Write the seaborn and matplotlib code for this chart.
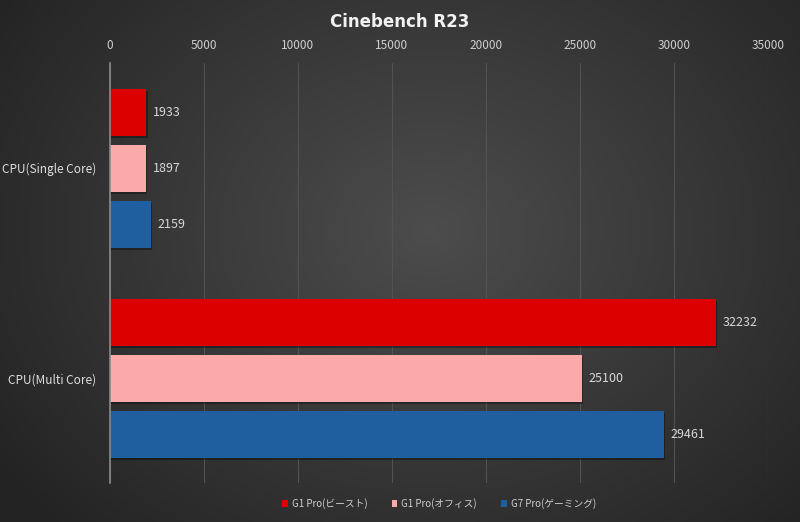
import numpy as np
import pandas as pd
import matplotlib
matplotlib.use("Agg")
import matplotlib.pyplot as plt
import matplotlib.patheffects as pe
import seaborn as sns

categories = ["CPU(Single Core)", "CPU(Multi Core)"]
series = ["G1 Pro(ビースト)", "G1 Pro(オフィス)", "G7 Pro(ゲーミング)"]
beast = [1933, 32232]
office = [1897, 25100]
gaming = [2159, 29461]
colors = ["#dc0000", "#fbaaaa", "#1f5e9f"]
xticks = [0, 5000, 10000, 15000, 20000, 25000, 30000, 35000]

df = pd.DataFrame({
    "cat": categories * 3,
    "series": [series[0]] * 2 + [series[1]] * 2 + [series[2]] * 2,
    "value": beast + office + gaming,
})

sns.set_theme(style="dark")
plt.rcParams["font.family"] = ["Noto Sans CJK JP", "DejaVu Sans"]

fig = plt.figure(figsize=(8, 5.22), dpi=100)

# radial gradient background
bg = fig.add_axes([0, 0, 1, 1], zorder=-10)
yy, xx = np.mgrid[0:522, 0:800]
r = np.sqrt(((xx - 430) / 520.0) ** 2 + ((yy - 230) / 420.0) ** 2)
val = np.clip(0.30 - 0.16 * r, 0.14, 0.30)
bg.imshow(np.dstack([val, val, val]), aspect="auto", extent=[0, 1, 0, 1])
bg.axis("off")

ax = fig.add_axes([0.1375, 0.0747, 0.96 - 0.1375, 0.879 - 0.0747])
ax.patch.set_alpha(0)
sns.barplot(data=df, y="cat", x="value", hue="series", orient="h",
            palette=colors, width=0.8, ax=ax, legend=True, saturation=1)

for p in ax.patches:
    h = p.get_height()
    if h == 0:
        continue
    new_h = h * 0.84
    p.set_y(p.get_y() + (h - new_h) / 2)
    p.set_height(new_h)
    p.set_linewidth(0)
    p.set_path_effects([pe.SimplePatchShadow(offset=(1, -1.5), shadow_rgbFace="black", alpha=0.35), pe.Normal()])

for c in ax.containers:
    ax.bar_label(c, fmt="%d", padding=5, color="#d8d8d8", fontsize=9)

ax.set_xlim(0, 35000)
ax.set_xticks(xticks)
ax.set_xticklabels([str(t) for t in xticks])
ax.xaxis.tick_top()
ax.tick_params(axis="x", colors="#cfcfcf", labelsize=8.5, length=0, pad=8)
ax.tick_params(axis="y", colors="#dedede", labelsize=8.5, length=0, pad=10)
ax.set_xlabel("")
ax.set_ylabel("")
ax.grid(axis="x", color="#525252", linewidth=0.8)
ax.grid(axis="y", visible=False)
ax.set_axisbelow(True)
for s in ["top", "right", "bottom"]:
    ax.spines[s].set_visible(False)
ax.spines["left"].set_color("#8a8a8a")
ax.spines["left"].set_linewidth(1.2)

leg = ax.legend(loc="upper center", bbox_to_anchor=(0.5, -0.015), ncol=3,
                frameon=False, fontsize=7, handlelength=0.6, handleheight=0.6,
                columnspacing=2.5, handletextpad=0.4, labelcolor="#d0d0d0")
for h, col in zip(leg.legend_handles, colors):
    h.set_path_effects([])
    h.set_edgecolor(col)
    h.set_linewidth(0)

fig.text(0.5, 0.958, "Cinebench R23", ha="center", va="center", color="#f2f2f2",
         fontsize=12, fontweight="bold", fontfamily=["DejaVu Sans"])

fig.savefig("out.png", dpi=100)
